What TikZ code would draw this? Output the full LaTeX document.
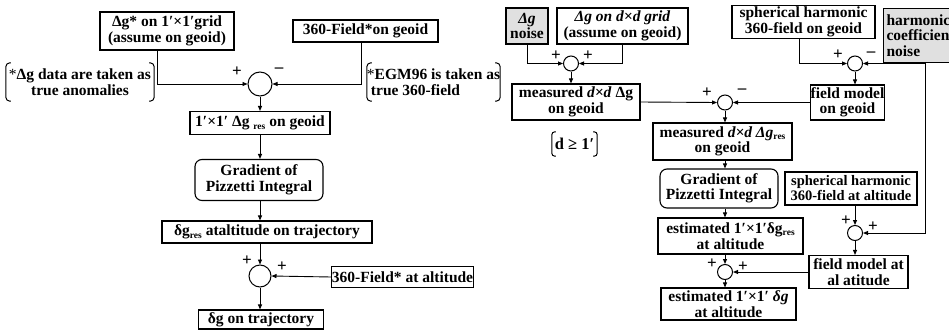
\documentclass[tikz,border=0pt]{standalone}
\usepackage{fontspec}
\setmainfont{Liberation Serif}
\usetikzlibrary{arrows.meta}
\newcommand{\resub}[1][-3pt]{\raisebox{#1}{\fontsize{9.5}{9.5}\selectfont res}}
\begin{document}
\begin{tikzpicture}[x=1pt,y=-1pt,
  every node/.style={font=\bfseries\fontsize{15.5}{15.5}\selectfont},
  box/.style={draw, line width=1.1pt, inner sep=0pt, align=center},
  rbox/.style={box, rounded corners=7pt},
  gbox/.style={box, fill=black!12},
  sumL/.style={circle, draw, line width=1pt, minimum size=24pt, inner sep=0pt},
  sumR/.style={circle, draw, line width=1pt, minimum size=15pt, inner sep=0pt},
  pm/.style={font=\bfseries\fontsize{17}{17}\selectfont, inner sep=0pt},
  arr/.style={line width=0.9pt, -{Triangle[length=5pt,width=4pt]}},
  brk/.style={line width=1pt, rounded corners=4pt},
  note/.style={inner sep=0pt}]
\useasboundingbox (0,0) rectangle (949,329);
\clip (0,0) rectangle (949,329);

% ---------------- left diagram ----------------
\node[box, minimum width=134pt, minimum height=38pt] (A) at (167,31) {Δg* on 1′×1′grid\\(assume on geoid)};
\node[box, minimum width=145pt, minimum height=22pt] (B) at (365.5,31) {360-Field*on geoid};
\node[note, align=center, minimum width=148pt, minimum height=38pt] (nl) at (80,82) {{\mdseries *}Δg data are taken as\\true anomalies};
\node[note, align=left, minimum width=133pt, minimum height=38pt] (nr) at (433.5,82) {{\mdseries *}EGM96 is taken as\\\hspace*{4pt}true 360-field};
\node[sumL] (s1) at (260,84) {};
\node[box, minimum width=140pt, minimum height=23pt] (C) at (260,123) {1′×1′ Δg \resub\ on geoid};
\node[rbox, minimum width=128pt, minimum height=41pt] (D) at (259,180) {Gradient of\\Pizzetti Integral};
\node[box, minimum width=210pt, minimum height=22pt] (E) at (267,232) {δg\resub\ ataltitude on trajectory};
\node[sumL, minimum size=22pt] (s2) at (260,276) {};
\node[box, minimum width=135pt, minimum height=21pt] (F) at (402.5,277) {360-Field* at altitude};
\node[box, minimum width=125pt, minimum height=19pt] (G) at (261,319.5) {δg on trajectory};

\node[pm] (p1) at (237,72) {+};
\node[pm] (m1) at (279,70) {–};
\node[pm] (p2) at (247,261) {+};
\node[pm] (p3) at (282,267) {+};

\draw[brk] ([xshift=5pt]nl.north west) -| (nl.south west) -- ([xshift=5pt]nl.south west);
\draw[brk] ([xshift=-5pt]nl.north east) -| (nl.south east) -- ([xshift=-5pt]nl.south east);
\draw[brk] ([xshift=5pt]nr.north west) -| (nr.south west) -- ([xshift=5pt]nr.south west);
\draw[brk] ([xshift=-5pt]nr.north east) -| (nr.south east) -- ([xshift=-5pt]nr.south east);

\draw[arr] ([xshift=-10pt]A.south) |- (s1.west);
\draw[arr] ([xshift=-4.5pt]B.south) |- (s1.east);
\draw[arr] (s1.south) -- (s1.south |- C.north);
\draw[arr] (s1.south |- C.south) -- (s1.south |- D.north);
\draw[arr] (s1.south |- D.south) -- (s1.south |- E.north);
\draw[arr] (s2.north |- E.south) -- (s2.north);
\draw[arr] (F.west) -- (s2.east);
\draw[arr] (s2.south) -- (s2.south |- G.north);

% ---------------- right diagram ----------------
\node[gbox, minimum width=42pt, minimum height=36pt] (H) at (527,26) {\textit{Δg}\\noise};
\node[box, minimum width=131pt, minimum height=36pt] (I) at (622.5,26) {\textit{Δg on d×d grid}\\(assume on geoid)};
\node[sumR] (s3) at (571,63.5) {};
\node[box, minimum width=128pt, minimum height=36pt] (J) at (576,102) {measured \textit{d×d} Δg\\on geoid};
\node[note, minimum width=45pt, minimum height=24pt, font=\bfseries\fontsize{16.5}{16.5}\selectfont] (dn) at (574.5,144) {d ≥ 1′};
\draw[brk, rounded corners=3pt] ([xshift=4pt]dn.north west) -| (dn.south west) -- ([xshift=4pt]dn.south west);
\draw[brk, rounded corners=3pt] ([xshift=-4pt]dn.north east) -| (dn.south east) -- ([xshift=-4pt]dn.south east);

\node[box, minimum width=143pt, minimum height=33pt] (L) at (803.5,22) {spherical harmonic\\360-field on geoid};
\node[gbox, anchor=north west, minimum width=84pt, minimum height=54pt, align=left, text width=78pt] (M) at (883,8) {harmonic\\coefficients\\noise};
\node[sumR] (s5) at (855,63.5) {};
\node[box, minimum width=63pt, minimum height=35pt] (K) at (847.5,102.5) {field model\\on geoid};
\node[sumR] (s4) at (725,102.5) {};
\node[box, minimum width=139pt, minimum height=37pt] (N) at (722.5,141.5) {measured \textit{d×d Δg}\resub[-2pt]\\on geoid};
\node[rbox, minimum width=118pt, minimum height=39pt] (O) at (719,188.5) {Gradient of\\Pizzetti Integral};
\node[box, minimum width=132pt, minimum height=33pt, font=\bfseries\fontsize{14.5}{15}\selectfont] (P) at (851,188.5) {spherical harmonic\\360-field at altitude};
\node[box, minimum width=145pt, minimum height=36pt] (Q) at (730.5,236) {estimated 1′×1′δg\resub[-2pt]\\at altitude};
\node[sumR] (s6) at (855,233) {};
\node[box, minimum width=99pt, minimum height=33pt] (R) at (858.5,272) {field model at\\al atitude};
\node[sumR] (s7) at (725,272) {};
\node[box, minimum width=135pt, minimum height=32pt] (S) at (728.5,304) {estimated 1′×1′ \textit{δg}\\at altitude};

\node[pm] (p4) at (556,56) {+};
\node[pm] (p5) at (588,56) {+};
\node[pm] (p6) at (707,93) {+};
\node[pm] (m2) at (742,91) {–};
\node[pm] (p7) at (838,55) {+};
\node[pm] (m3) at (871,54) {–};
\node[pm] (p8) at (846,221) {+};
\node[pm] (p9) at (873,227) {+};
\node[pm] (p10) at (712,264) {+};
\node[pm] (p11) at (743,267) {+};

\draw[arr] (H.south) |- (s3.west);
\draw[arr] (I.south) |- (s3.east);
\draw[arr] (s3.south) -- (s3.south |- J.north);
\draw[arr] (J.east) -- (s4.west);
\draw[arr] ([xshift=-4.5pt]L.south) |- (s5.west);
\draw[arr] (M.south) |- (s5.east);
\draw[arr] (M.south) |- (s6.east);
\draw[arr] (s5.south) -- (s5.south |- K.north);
\draw[arr] (K.west) -- (s4.east);
\draw[arr] (s4.south) -- (s4.south |- N.north);
\draw[arr] (s4.south |- N.south) -- (s4.south |- O.north);
\draw[arr] (s4.south |- O.south) -- (s4.south |- Q.north);
\draw[arr] (s7.north |- Q.south) -- (s7.north);
\draw[arr] (s6.north |- P.south) -- (s6.north);
\draw[arr] (s6.south) -- (s6.south |- R.north);
\draw[arr] (R.west) -- (s7.east);
\draw[arr] (s7.south) -- (s7.south |- S.north);
\end{tikzpicture}
\end{document}
